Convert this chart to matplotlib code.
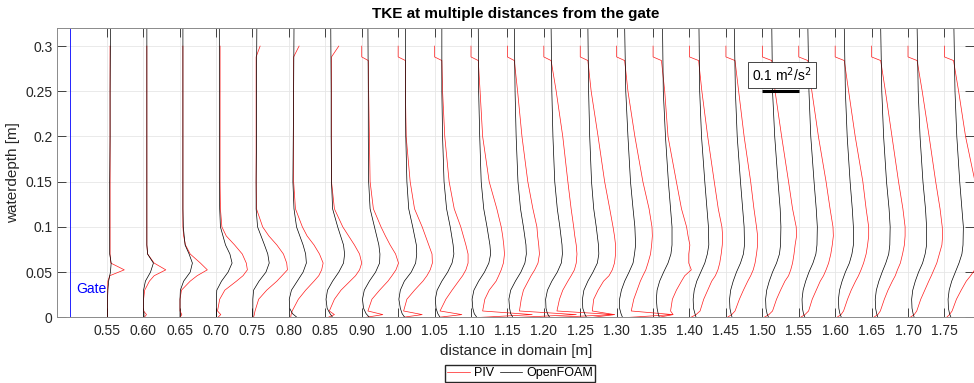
import numpy as np
import matplotlib.pyplot as plt

plt.rcParams['font.family'] = ['Liberation Sans', 'DejaVu Sans']

# station positions along the flume and the labels printed under them
x_pos = [0.55, 0.60, 0.65, 0.70, 0.75, 0.80, 0.85, 0.90, 0.95, 1.00, 1.05, 1.10,
         1.15, 1.20, 1.25, 1.30, 1.35, 1.40, 1.45, 1.50, 1.55, 1.60, 1.65, 1.70]
tick_labels = ['0.55', '0.60', '0.65', '0.70', '0.75', '0.80', '0.85', '0.90',
               '1.00', '1.05', '1.10', '1.15', '1.20', '1.25', '1.30', '1.35',
               '1.40', '1.45', '1.50', '1.55', '1.60', '1.65', '1.70', '1.75']
gate_x = 0.50
scale = 0.5          # m of x per m2/s2 of TKE
ref_tke = 0.1        # scale bar

# vertical levels [m]
z_foam = [0, 0.004, 0.01, 0.02, 0.03, 0.04, 0.05, 0.06, 0.07, 0.08, 0.10, 0.12,
          0.15, 0.20, 0.25, 0.32]
z_piv = [0, 0.003, 0.007, 0.02, 0.03, 0.04, 0.046, 0.0525, 0.06, 0.07, 0.08, 0.09,
         0.10, 0.12, 0.15, 0.20, 0.25, 0.284, 0.288, 0.30]

# OpenFOAM TKE [m2/s2], one row per station
foam_tke = [
    [0.002, 0.002, 0.002, 0.002, 0.003, 0.005, 0.010, 0.012, 0.008, 0.008, 0.008, 0.008, 0.008, 0.009, 0.009, 0.010],  # 0.55
    [0.002, 0.002, 0.001, 0.001, 0.001, 0.006, 0.020, 0.028, 0.012, 0.010, 0.010, 0.010, 0.010, 0.010, 0.010, 0.010],  # 0.60
    [0.001, 0.001, 0.001, 0.001, 0.002, 0.011, 0.029, 0.035, 0.026, 0.015, 0.010, 0.009, 0.009, 0.009, 0.009, 0.009],  # 0.65
    [0.001, 0.001, 0.001, 0.001, 0.002, 0.015, 0.033, 0.044, 0.038, 0.026, 0.012, 0.010, 0.009, 0.009, 0.009, 0.009],  # 0.70
    [0.001, 0.001, 0.001, 0.001, 0.003, 0.018, 0.037, 0.046, 0.042, 0.033, 0.014, 0.010, 0.010, 0.011, 0.011, 0.012],  # 0.75
    [0.022, 0.010, 0.002, 0.001, 0.007, 0.023, 0.039, 0.048, 0.046, 0.039, 0.021, 0.014, 0.011, 0.012, 0.013, 0.014],  # 0.80
    [0.020, 0.013, 0.005, 0.002, 0.006, 0.020, 0.037, 0.050, 0.053, 0.050, 0.034, 0.020, 0.017, 0.016, 0.016, 0.015],  # 0.85
    [0.021, 0.012, 0.005, 0.002, 0.007, 0.021, 0.038, 0.049, 0.050, 0.047, 0.035, 0.023, 0.019, 0.018, 0.018, 0.017],  # 0.90
    [0.018, 0.011, 0.006, 0.002, 0.006, 0.017, 0.036, 0.048, 0.051, 0.050, 0.040, 0.029, 0.024, 0.021, 0.020, 0.020],  # 1.00
    [0.015, 0.009, 0.004, 0.002, 0.007, 0.020, 0.036, 0.048, 0.053, 0.051, 0.043, 0.033, 0.026, 0.022, 0.020, 0.020],  # 1.05
    [0.016, 0.009, 0.005, 0.003, 0.008, 0.021, 0.037, 0.049, 0.054, 0.052, 0.044, 0.035, 0.028, 0.024, 0.021, 0.020],  # 1.10
    [0.015, 0.009, 0.006, 0.004, 0.009, 0.022, 0.037, 0.048, 0.052, 0.051, 0.044, 0.036, 0.029, 0.024, 0.021, 0.019],  # 1.15
    [0.016, 0.010, 0.006, 0.005, 0.010, 0.022, 0.037, 0.048, 0.051, 0.050, 0.044, 0.037, 0.030, 0.025, 0.022, 0.020],  # 1.20
    [0.017, 0.012, 0.007, 0.006, 0.010, 0.021, 0.035, 0.047, 0.051, 0.050, 0.044, 0.037, 0.031, 0.026, 0.023, 0.021],  # 1.25
    [0.016, 0.012, 0.008, 0.008, 0.013, 0.022, 0.034, 0.045, 0.049, 0.052, 0.050, 0.045, 0.038, 0.031, 0.025, 0.022],  # 1.30
    [0.017, 0.014, 0.011, 0.009, 0.011, 0.018, 0.029, 0.041, 0.049, 0.052, 0.052, 0.048, 0.042, 0.034, 0.028, 0.026],  # 1.35
    [0.018, 0.015, 0.011, 0.010, 0.013, 0.020, 0.031, 0.042, 0.049, 0.053, 0.052, 0.048, 0.042, 0.033, 0.028, 0.026],  # 1.40
    [0.017, 0.014, 0.011, 0.010, 0.013, 0.020, 0.029, 0.040, 0.048, 0.051, 0.050, 0.046, 0.040, 0.031, 0.026, 0.023],  # 1.45
    [0.017, 0.013, 0.010, 0.009, 0.012, 0.019, 0.028, 0.039, 0.047, 0.050, 0.051, 0.049, 0.043, 0.034, 0.028, 0.026],  # 1.50
    [0.017, 0.013, 0.010, 0.009, 0.012, 0.019, 0.028, 0.039, 0.047, 0.050, 0.051, 0.048, 0.042, 0.033, 0.028, 0.025],  # 1.55
    [0.017, 0.013, 0.010, 0.009, 0.012, 0.019, 0.028, 0.039, 0.046, 0.050, 0.050, 0.047, 0.041, 0.033, 0.028, 0.025],  # 1.60
    [0.017, 0.014, 0.011, 0.010, 0.013, 0.020, 0.029, 0.039, 0.047, 0.050, 0.051, 0.048, 0.041, 0.033, 0.028, 0.025],  # 1.65
    [0.017, 0.014, 0.011, 0.010, 0.013, 0.020, 0.029, 0.040, 0.047, 0.051, 0.051, 0.048, 0.041, 0.033, 0.028, 0.025],  # 1.70
    [0.018, 0.014, 0.011, 0.010, 0.013, 0.020, 0.030, 0.040, 0.048, 0.051, 0.052, 0.048, 0.042, 0.034, 0.029, 0.026],  # 1.75
]

# PIV TKE [m2/s2], one row per station
piv_tke = [
    [0.002, 0.002, 0.002, 0.002, 0.002, 0.003, 0.008, 0.048, 0.011, 0.009, 0.009, 0.009, 0.009, 0.009, 0.009, 0.009, 0.009, 0.009, 0.009, 0.009],  # 0.55
    [0.003, 0.009, 0.001, 0.001, 0.004, 0.017, 0.030, 0.062, 0.030, 0.012, 0.010, 0.010, 0.010, 0.010, 0.010, 0.010, 0.010, 0.010, 0.010, 0.010],  # 0.60
    [0.001, 0.006, 0.001, 0.001, 0.005, 0.029, 0.048, 0.076, 0.057, 0.029, 0.016, 0.011, 0.009, 0.009, 0.009, 0.009, 0.009, 0.009, 0.009, 0.009],  # 0.65
    [0.005, 0.013, 0.004, 0.010, 0.024, 0.056, 0.074, 0.086, 0.083, 0.072, 0.051, 0.028, 0.016, 0.012, 0.011, 0.011, 0.011, 0.011, 0.011, 0.011],  # 0.70
    [0.003, 0.005, 0.007, 0.017, 0.039, 0.067, 0.081, 0.096, 0.094, 0.085, 0.067, 0.045, 0.028, 0.011, 0.010, 0.010, 0.010, 0.010, 0.010, 0.021],  # 0.75
    [0.005, 0.006, 0.009, 0.026, 0.046, 0.069, 0.082, 0.090, 0.094, 0.084, 0.069, 0.050, 0.037, 0.018, 0.013, 0.013, 0.013, 0.013, 0.013, 0.028],  # 0.80
    [0.008, 0.025, 0.011, 0.025, 0.043, 0.068, 0.083, 0.094, 0.100, 0.094, 0.080, 0.064, 0.048, 0.025, 0.017, 0.017, 0.017, 0.017, 0.017, 0.037],  # 0.85
    [0.012, 0.058, 0.017, 0.028, 0.049, 0.072, 0.083, 0.094, 0.101, 0.093, 0.078, 0.065, 0.053, 0.032, 0.023, 0.021, 0.019, 0.018, 0.000, 0.000],  # 0.90
    [0.013, 0.066, 0.015, 0.024, 0.045, 0.068, 0.079, 0.088, 0.094, 0.093, 0.084, 0.075, 0.066, 0.045, 0.033, 0.022, 0.020, 0.020, 0.000, 0.000],  # 1.00
    [0.011, 0.075, 0.015, 0.031, 0.048, 0.066, 0.077, 0.086, 0.092, 0.092, 0.086, 0.079, 0.072, 0.054, 0.040, 0.028, 0.022, 0.020, 0.000, 0.000],  # 1.05
    [0.028, 0.168, 0.032, 0.038, 0.050, 0.069, 0.076, 0.083, 0.089, 0.092, 0.090, 0.087, 0.083, 0.071, 0.050, 0.032, 0.025, 0.020, 0.000, 0.000],  # 1.10
    [0.033, 0.189, 0.033, 0.038, 0.044, 0.057, 0.065, 0.075, 0.084, 0.088, 0.086, 0.083, 0.081, 0.070, 0.056, 0.040, 0.028, 0.019, 0.000, 0.000],  # 1.15
    [0.034, 0.194, 0.036, 0.043, 0.052, 0.066, 0.075, 0.084, 0.089, 0.091, 0.089, 0.085, 0.082, 0.075, 0.066, 0.052, 0.034, 0.020, 0.000, 0.000],  # 1.20
    [0.035, 0.094, 0.033, 0.037, 0.049, 0.064, 0.079, 0.088, 0.094, 0.097, 0.097, 0.094, 0.090, 0.081, 0.067, 0.049, 0.030, 0.021, 0.000, 0.000],  # 1.25
    [0.036, 0.154, 0.040, 0.047, 0.056, 0.065, 0.072, 0.080, 0.086, 0.093, 0.096, 0.098, 0.097, 0.089, 0.072, 0.050, 0.031, 0.022, 0.000, 0.000],  # 1.30
    [0.015, 0.055, 0.048, 0.053, 0.064, 0.078, 0.087, 0.105, 0.098, 0.098, 0.101, 0.096, 0.092, 0.078, 0.064, 0.041, 0.032, 0.023, 0.000, 0.000],  # 1.35
    [0.004, 0.018, 0.029, 0.039, 0.050, 0.061, 0.071, 0.078, 0.083, 0.087, 0.090, 0.091, 0.089, 0.079, 0.068, 0.050, 0.034, 0.025, 0.000, 0.000],  # 1.40
    [0.004, 0.016, 0.025, 0.037, 0.048, 0.060, 0.068, 0.075, 0.080, 0.084, 0.087, 0.087, 0.084, 0.077, 0.068, 0.050, 0.035, 0.025, 0.000, 0.000],  # 1.45
    [0.005, 0.018, 0.028, 0.039, 0.050, 0.062, 0.072, 0.078, 0.083, 0.087, 0.090, 0.094, 0.093, 0.083, 0.072, 0.053, 0.035, 0.026, 0.000, 0.000],  # 1.50
    [0.005, 0.017, 0.027, 0.037, 0.048, 0.059, 0.068, 0.075, 0.082, 0.088, 0.092, 0.095, 0.094, 0.086, 0.075, 0.054, 0.036, 0.025, 0.000, 0.000],  # 1.55
    [0.005, 0.016, 0.023, 0.034, 0.044, 0.056, 0.064, 0.071, 0.078, 0.085, 0.089, 0.092, 0.092, 0.085, 0.076, 0.055, 0.037, 0.025, 0.000, 0.000],  # 1.60
    [0.006, 0.017, 0.024, 0.035, 0.045, 0.057, 0.065, 0.071, 0.079, 0.085, 0.090, 0.092, 0.092, 0.086, 0.074, 0.056, 0.038, 0.025, 0.000, 0.000],  # 1.65
    [0.006, 0.017, 0.024, 0.035, 0.046, 0.057, 0.064, 0.071, 0.079, 0.086, 0.093, 0.095, 0.094, 0.088, 0.076, 0.058, 0.039, 0.025, 0.000, 0.000],  # 1.70
    [0.006, 0.014, 0.021, 0.033, 0.046, 0.060, 0.072, 0.083, 0.092, 0.098, 0.100, 0.100, 0.098, 0.092, 0.084, 0.058, 0.039, 0.025, 0.000, 0.000],  # 1.75
]

axcol = '#262626'
fig = plt.figure(figsize=(9.74, 3.83), dpi=100)
ax = fig.add_axes([0.0588, 0.1715, 0.9415, 0.7554])

for i, x0 in enumerate(x_pos):
    ax.plot(x0 + scale * np.array(piv_tke[i]), z_piv, color='#ff1a1a', lw=0.5,
            label='PIV' if i == 0 else None)
    ax.plot(x0 + scale * np.array(foam_tke[i]), z_foam, color='black', lw=0.5,
            label='OpenFOAM' if i == 0 else None)

# gate
ax.axvline(gate_x, color='#0000ff', lw=0.6)
ax.text(gate_x + 0.008, 0.031, 'Gate', color='#0000ff', fontsize=10,
        ha='left', va='center')

# scale bar
bar_x = x_pos[18]
ax.plot([bar_x, bar_x + scale * ref_tke], [0.25, 0.25], color='black', lw=2.2,
        solid_capstyle='butt')
ax.text(bar_x + 0.027, 0.268, '0.1 m$^2$/s$^2$', fontsize=10, ha='center', va='center',
        bbox=dict(boxstyle='square,pad=0.3', facecolor='white', edgecolor=axcol, lw=0.6))

ax.set_xlim(0.482, 1.741)
ax.set_ylim(0, 0.32)
ax.set_xticks(x_pos)
ax.set_xticklabels(tick_labels)
ax.set_yticks([0, 0.05, 0.1, 0.15, 0.2, 0.25, 0.3])
ax.set_yticklabels(['0', '0.05', '0.1', '0.15', '0.2', '0.25', '0.3'])
ax.tick_params(direction='in', length=6.5, width=0.6, color=axcol, labelcolor=axcol,
               labelsize=10, top=True, right=True)
ax.tick_params(axis='x', pad=5)
ax.tick_params(axis='y', pad=3.5)
ax.grid(True, color='#e6e6e6', lw=0.6)
ax.set_axisbelow(True)
for s in ax.spines.values():
    s.set_color('#8a8a8a')
    s.set_linewidth(0.7)

ax.set_title('TKE at multiple distances from the gate', fontsize=11, fontweight='bold',
             color='black', pad=7)
ax.set_xlabel('distance in domain [m]', fontsize=11, color=axcol, labelpad=4)
ax.set_ylabel('waterdepth [m]', fontsize=11, color=axcol, labelpad=4)

fig.legend(loc='center', bbox_to_anchor=(0.534, 0.026), ncol=2, fontsize=9,
           handlelength=1.8, handletextpad=0.3, columnspacing=0.5, borderpad=0.2,
           fancybox=False, edgecolor=axcol, framealpha=1)

fig.savefig('out.png', dpi=100)
